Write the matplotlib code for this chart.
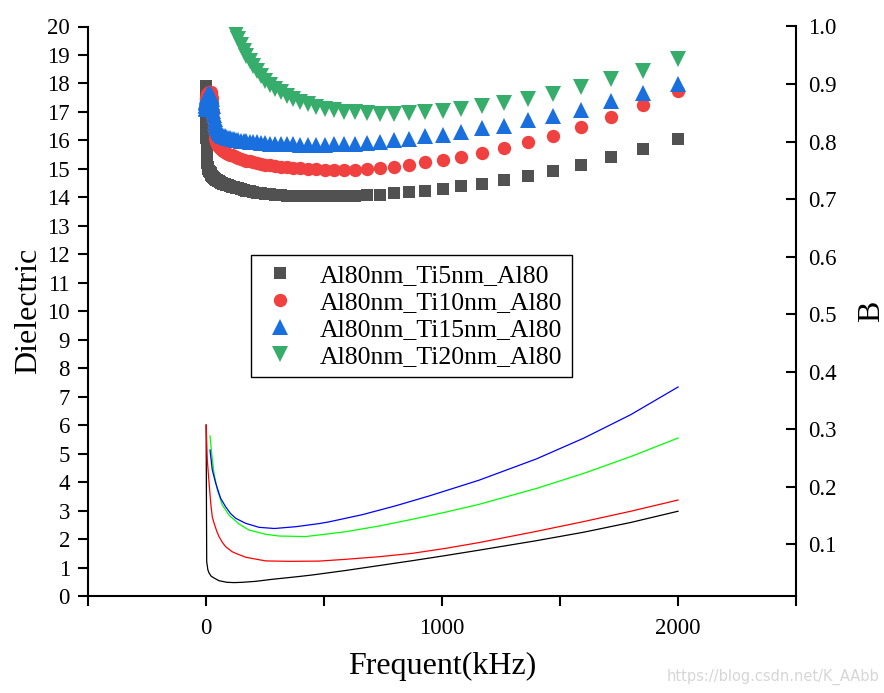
import matplotlib
matplotlib.use('Agg')
import matplotlib.pyplot as plt
from matplotlib.ticker import FixedLocator

plt.rcParams['font.family'] = ['Liberation Serif', 'DejaVu Serif']

# ---------------- data: dielectric (left axis, markers) ----------------
freq_low = [0.02, 0.05, 0.1, 0.2, 0.5, 1, 2, 3, 4, 5, 6, 8, 10, 13, 16]
freq_main = [20.0, 21.6, 23.3, 25.2, 27.2, 29.4, 31.7, 34.2, 37.0, 39.9,
             43.1, 46.5, 50.2, 54.2, 58.6, 63.2, 68.3, 73.7, 79.6, 86.0,
             92.8, 100.2, 108.2, 116.9, 126.2, 136.3, 147.1, 158.9, 171.5, 185.2,
             200.0, 216.0, 233.2, 251.8, 271.9, 293.6, 317.0, 342.3, 369.6, 399.1,
             430.9, 465.3, 502.4, 542.5, 585.7, 632.5, 682.9, 737.4, 796.2, 859.7,
             928.3, 1002.4, 1082.3, 1168.7, 1261.9, 1362.6, 1471.3, 1588.7, 1715.4, 1852.2, 2000.0]
freq = freq_low + freq_main

ti5_low = [17.9, 17.6, 17.3, 17.0, 16.7, 16.4, 16.1, 15.8, 15.55, 15.35, 15.2, 15.05, 14.98, 14.93, 14.89]
ti5_main = [14.85, 14.82, 14.79, 14.76, 14.74, 14.72, 14.70, 14.68, 14.66, 14.64,
            14.62, 14.60, 14.58, 14.56, 14.54, 14.52, 14.50, 14.48, 14.46, 14.44,
            14.42, 14.40, 14.38, 14.36, 14.34, 14.32, 14.29, 14.26, 14.23, 14.21,
            14.19, 14.17, 14.15, 14.13, 14.11, 14.09, 14.08, 14.06, 14.05, 14.04,
            14.03, 14.03, 14.03, 14.03, 14.04, 14.05, 14.07, 14.10, 14.14, 14.19,
            14.24, 14.31, 14.39, 14.48, 14.60, 14.76, 14.94, 15.15, 15.40, 15.69, 16.05]

ti10_low = [17.2, 17.25, 17.3, 17.35, 17.4, 17.45, 17.5, 17.55, 17.58, 17.6, 17.62, 17.65, 17.67, 17.69, 17.7]
ti10_main = [17.7, 17.68, 17.62, 17.5, 17.3, 17.0, 16.7, 16.4, 16.2, 16.05,
             15.95, 15.88, 15.82, 15.77, 15.73, 15.69, 15.66, 15.62, 15.59, 15.56,
             15.53, 15.50, 15.47, 15.44, 15.41, 15.38, 15.35, 15.32, 15.29, 15.26,
             15.23, 15.20, 15.17, 15.14, 15.12, 15.10, 15.08, 15.06, 15.04, 15.02,
             15.00, 14.98, 14.97, 14.96, 14.96, 14.96, 14.98, 15.02, 15.08, 15.15,
             15.24, 15.32, 15.43, 15.57, 15.73, 15.94, 16.17, 16.47, 16.82, 17.26, 17.75]

ti15_low = [17.1, 17.15, 17.2, 17.25, 17.3, 17.35, 17.4, 17.45, 17.5, 17.53, 17.56, 17.6, 17.62, 17.63, 17.62]
ti15_main = [17.6, 17.57, 17.52, 17.45, 17.35, 17.2, 17.05, 16.9, 16.75, 16.62,
             16.52, 16.43, 16.36, 16.30, 16.25, 16.21, 16.18, 16.16, 16.14, 16.12,
             16.10, 16.08, 16.06, 16.04, 16.02, 16.00, 15.99, 15.98, 15.97, 15.96,
             15.95, 15.93, 15.92, 15.90, 15.89, 15.88, 15.87, 15.86, 15.86, 15.85,
             15.85, 15.85, 15.85, 15.86, 15.87, 15.89, 15.92, 15.95, 16.00, 16.06,
             16.15, 16.20, 16.31, 16.42, 16.52, 16.73, 16.87, 17.08, 17.38, 17.65, 17.98]

ti20_low = [26.0, 25.5, 25.0, 24.6, 24.2, 23.8, 23.5, 23.2, 23.0, 22.8, 22.7, 22.5, 22.3, 22.1, 21.95]
ti20_main = [21.8, 21.75, 21.7, 21.65, 21.6, 21.55, 21.5, 21.45, 21.4, 21.35,
             21.3, 21.25, 21.2, 21.15, 21.1, 21.05, 21.0, 20.95, 20.85, 20.75,
             20.65, 20.45, 20.2, 19.97, 19.75, 19.55, 19.35, 19.15, 18.97, 18.8,
             18.62, 18.45, 18.27, 18.1, 17.95, 17.82, 17.69, 17.57, 17.46, 17.36,
             17.27, 17.19, 17.12, 17.06, 17.01, 16.98, 16.95, 16.94, 16.94, 16.95,
             16.98, 17.02, 17.09, 17.20, 17.30, 17.47, 17.64, 17.86, 18.14, 18.45, 18.87]

ti5 = ti5_low + ti5_main
ti10 = ti10_low + ti10_main
ti15 = ti15_low + ti15_main
ti20 = ti20_low + ti20_main

labels = ['Al80nm_Ti5nm_Al80', 'Al80nm_Ti10nm_Al80',
          'Al80nm_Ti15nm_Al80', 'Al80nm_Ti20nm_Al80']

# ---------------- data: B (right axis, lines) ----------------
b_black_f = [0.5, 3, 8, 13, 22, 34, 55, 89, 120, 153, 211, 280, 394, 451, 592, 733, 874, 1016, 1157, 1400, 1600, 1800, 2000]
b_black = [0.307, 0.069, 0.055, 0.0496, 0.044, 0.0409, 0.0362, 0.0334, 0.0329, 0.0334, 0.0351, 0.0386, 0.0435, 0.0462,
           0.0540, 0.0625, 0.0710, 0.0800, 0.0893, 0.1058, 0.1205, 0.1375, 0.157]

b_red_f = [0.5, 5.5, 12.7, 20, 26.7, 34, 45, 55, 69, 83, 111, 126, 168, 253, 352, 479, 592, 733, 874, 1016, 1157, 1400, 1600, 1800, 2000]
b_red = [0.307, 0.246, 0.208, 0.171, 0.147, 0.1365, 0.123, 0.113, 0.103, 0.0955, 0.0866, 0.0838, 0.077, 0.0706, 0.0699,
         0.0703, 0.0734, 0.0779, 0.0838, 0.0925, 0.1025, 0.122, 0.139, 0.157, 0.1765]

b_blue_f = [17, 26.7, 41, 62, 83, 104, 126, 168, 225, 290, 380, 479, 521, 662, 804, 945, 1157, 1400, 1600, 1800, 2000]
b_blue = [0.2635, 0.2287, 0.206, 0.1795, 0.1649, 0.153, 0.1447, 0.136, 0.129, 0.127, 0.1301, 0.1355, 0.1385, 0.151,
          0.1665, 0.1835, 0.211, 0.248, 0.284, 0.325, 0.373]

b_green_f = [17, 24, 34, 48, 69, 97, 140, 182, 253, 309, 422, 479, 592, 733, 874, 1016, 1157, 1400, 1600, 1800, 2000]
b_green = [0.288, 0.2577, 0.223, 0.194, 0.168, 0.1504, 0.1348, 0.1243, 0.1169, 0.1139, 0.113, 0.1157, 0.1214, 0.1313,
           0.143, 0.1555, 0.169, 0.1966, 0.2228, 0.2521, 0.2843]

x_major = [0, 1000, 2000]
x_minor = [-500, 500, 1500, 2500]
left_ticks = list(range(0, 21))
right_ticks = [0.1, 0.2, 0.3, 0.4, 0.5, 0.6, 0.7, 0.8, 0.9, 1.0]
right_tick_labels = ['0.1', '0.2', '0.3', '0.4', '0.5', '0.6', '0.7', '0.8', '0.9', '1.0']

# ---------------- figure ----------------
W, H = 884, 693
fig = plt.figure(figsize=(W / 100, H / 100), dpi=100)
ax = fig.add_axes([88 / W, 1 - 596 / H, (796 - 88) / W, (596 - 26.5) / H])

c_black, c_red, c_blue, c_green = '#515151', '#F14040', '#1A6FDF', '#37AD6B'
ax.plot(freq, ti5, 's', color=c_black, ms=8.8, mew=0, label=labels[0])
ax.plot(freq, ti10, 'o', color=c_red, ms=9.6, mew=0, label=labels[1])
ax.plot(freq, ti15, '^', color=c_blue, ms=11.2, mew=0, label=labels[2])
ax.plot(freq, ti20, 'v', color=c_green, ms=11.2, mew=0, label=labels[3])

ax.set_xlim(-500, 2500)
ax.set_ylim(0, 20)
ax.set_xticks(x_major)
ax.xaxis.set_minor_locator(FixedLocator(x_minor))
ax.set_yticks(left_ticks)
ax.tick_params(axis='both', which='both', direction='out', length=7, width=1.5, labelsize=16.5)
ax.tick_params(axis='x', which='both', pad=9)
ax.tick_params(axis='y', pad=6)
ax.spines['top'].set_visible(False)
ax.spines['right'].set_visible(False)
for s in ('left', 'bottom'):
    ax.spines[s].set_linewidth(1.5)

ax.set_xlabel('Frequent(kHz)', fontsize=23, labelpad=9)
ax.set_ylabel('Dielectric', fontsize=23, labelpad=3)

leg = ax.legend(loc='upper left', bbox_to_anchor=(0.230, 0.599), borderaxespad=0,
                frameon=True, fancybox=False, edgecolor='black', framealpha=1,
                fontsize=18.5, borderpad=0.35, handlelength=1.6, handletextpad=0.75,
                labelspacing=0.16, numpoints=1)
leg.get_frame().set_linewidth(1.0)

ax2 = ax.twinx()
ax2.plot(b_black_f, b_black, '-', color='#000000', lw=0.9)
ax2.plot(b_red_f, b_red, '-', color='#FF0000', lw=0.9)
ax2.plot(b_green_f, b_green, '-', color='#00FF00', lw=0.9)
ax2.plot(b_blue_f, b_blue, '-', color='#0000FF', lw=0.9)
ax2.set_ylim(0.0096, 1.0)
ax2.set_yticks(right_ticks)
ax2.set_yticklabels(right_tick_labels)
ax2.tick_params(axis='y', direction='in', length=7, width=1.5, labelsize=16.5, pad=9)
for s in ('top', 'left', 'bottom'):
    ax2.spines[s].set_visible(False)
ax2.spines['right'].set_linewidth(1.5)
ax2.set_ylabel('B', fontsize=23, labelpad=14)

fig.text(0.995, 0.012, 'https://blog.csdn.net/K_AAbb', ha='right', va='bottom',
         color='#d6d6d6', fontsize=10.5, family='DejaVu Sans')

fig.savefig('out.png', dpi=100)
